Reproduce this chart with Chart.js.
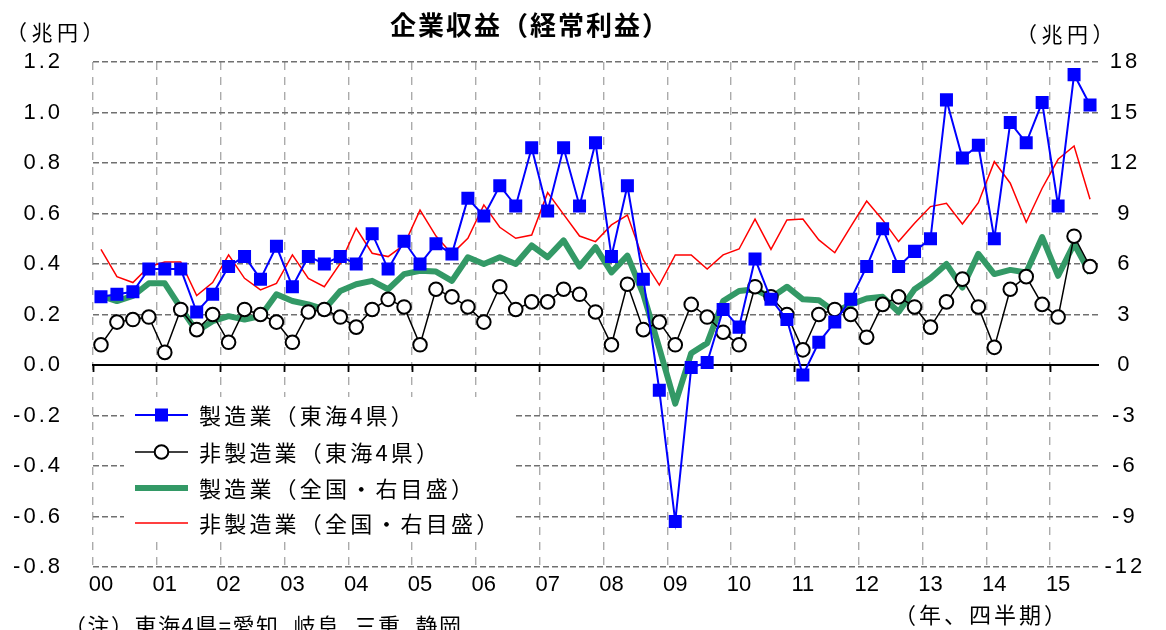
<!DOCTYPE html>
<html><head><meta charset="utf-8">
<script src="https://cdn.jsdelivr.net/npm/chart.js@4.4.0/dist/chart.umd.min.js"></script>
<style>html,body{margin:0;padding:0;background:#fff;}</style>
</head><body>
<canvas id="c" width="1166" height="630"></canvas>
<script>
// ---- data ----
const years = ['00','01','02','03','04','05','06','07','08','09','10','11','12','13','14','15'];
const seriesNames = ['製造業（東海4県）','非製造業（東海4県）','製造業（全国・右目盛）','非製造業（全国・右目盛）'];
// 製造業（東海4県） 兆円, left axis
const mfgTokai = [0.27,0.28,0.29,0.38,0.38,0.38,0.21,0.28,0.39,0.43,
  0.34,0.47,0.31,0.43,0.40,0.43,0.40,0.52,0.38,0.49,
  0.40,0.48,0.44,0.66,0.59,0.71,0.63,0.86,0.61,0.86,
  0.63,0.88,0.43,0.71,0.34,-0.10,-0.62,-0.01,0.01,0.22,
  0.15,0.42,0.26,0.18,-0.04,0.09,0.17,0.26,0.39,0.54,
  0.39,0.45,0.50,1.05,0.82,0.87,0.50,0.96,0.88,1.04,
  0.63,1.15,1.03];
// 非製造業（東海4県） 兆円, left axis
const nonMfgTokai = [0.08,0.17,0.18,0.19,0.05,0.22,0.14,0.20,0.09,0.22,
  0.20,0.17,0.09,0.21,0.22,0.19,0.15,0.22,0.26,0.23,
  0.08,0.30,0.27,0.23,0.17,0.31,0.22,0.25,0.25,0.30,
  0.28,0.21,0.08,0.32,0.14,0.17,0.08,0.24,0.19,0.13,
  0.08,0.31,0.27,0.20,0.06,0.20,0.22,0.20,0.11,0.24,
  0.27,0.23,0.15,0.25,0.34,0.23,0.07,0.30,0.35,0.24,
  0.19,0.51,0.39];
// 製造業（全国） 兆円, right axis
const mfgNation = [4.1,3.8,4.1,4.85,4.85,3.4,2.0,2.6,2.9,2.7,
  2.9,4.2,3.8,3.6,3.3,4.4,4.8,5.0,4.5,5.4,
  5.6,5.55,5.0,6.4,6.0,6.4,6.0,7.1,6.4,7.4,
  5.85,7.0,5.5,6.5,4.2,1.0,-2.3,0.7,1.3,3.8,
  4.4,4.5,4.0,4.65,3.9,3.85,3.15,3.6,3.95,4.05,
  3.15,4.5,5.15,6.0,4.6,6.6,5.4,5.65,5.5,7.6,
  5.3,7.2,5.45];
// 非製造業（全国） 兆円, right axis
const nonMfgNation = [6.87,5.25,4.9,5.84,6.12,6.12,4.12,4.9,6.54,5.15,
  4.46,4.85,6.54,5.15,4.65,6.04,8.12,6.64,6.44,7.13,
  9.2,7.66,6.6,7.53,9.51,8.18,7.53,7.72,10.24,8.95,
  7.66,7.33,8.32,8.91,6.24,4.75,6.54,6.54,5.7,6.54,
  6.89,8.67,6.87,8.62,8.67,7.43,6.67,8.22,9.74,8.62,
  7.33,8.42,9.41,9.61,8.38,9.64,12.08,10.8,8.48,10.5,
  12.22,13.01,9.85];
const leftRange = [-0.8, 1.2, 0.2];
const rightRange = [-12, 18, 3];

const categories = years.flatMap(y => [1,2,3,4].map(q => y + '/' + q + 'Q')).slice(0, mfgTokai.length);

// ---- styling ----
const LAT = '"Liberation Sans", Arial, sans-serif';
const JP = '"Noto Sans CJK JP", "Noto Sans", sans-serif';
const BLUE = '#0000FF', GREEN = '#339966', RED = '#FF0000', BLACK = '#000000';
const legendBox = {x: 124, y: 397, w: 390, h: 144};

function spacedLabels(scale, spacing) {
  if (scale._spaced) return;
  const orig = scale.drawLabels.bind(scale);
  scale.drawLabels = (area) => {
    const c = scale.ctx;
    c.save();
    c.letterSpacing = spacing;
    orig(area);
    c.restore();
  };
  scale._spaced = true;
}

const annot = {
  id: 'annot',
  beforeDraw(chart) {
    spacedLabels(chart.scales.y, '3px');
    spacedLabels(chart.scales.y1, '3px');
  },
  beforeDatasetsDraw(chart) {
    const c = chart.ctx;
    c.save();
    c.fillStyle = '#fff';
    c.fillRect(legendBox.x, legendBox.y, legendBox.w, legendBox.h);
    c.restore();
  },
  afterDatasetsDraw(chart) {
    const c = chart.ctx;
    c.save();
    const rows = [415, 452, 488, 523];
    const x1 = 135, x2 = 188, xm = (x1 + x2) / 2;
    const ds = chart.data.datasets;
    rows.forEach((ry, i) => {
      const d = ds[i];
      c.beginPath();
      c.strokeStyle = d.borderColor;
      c.lineWidth = d.borderWidth;
      c.moveTo(x1, ry); c.lineTo(x2, ry); c.stroke();
      if (d.pointStyle === 'rect' && d.pointRadius > 0) {
        const s = Math.SQRT1_2 * d.pointRadius;
        c.fillStyle = d.pointBackgroundColor;
        c.fillRect(xm - s, ry - s, 2 * s, 2 * s);
      } else if (d.pointStyle === 'circle' && d.pointRadius > 0) {
        c.beginPath();
        c.arc(xm, ry, d.pointRadius, 0, Math.PI * 2);
        c.fillStyle = d.pointBackgroundColor; c.fill();
        c.lineWidth = d.pointBorderWidth; c.strokeStyle = d.pointBorderColor; c.stroke();
      }
      c.fillStyle = '#000';
      c.font = '22px ' + JP;
      c.letterSpacing = '3.2px';
      c.textAlign = 'left'; c.textBaseline = 'middle';
      c.fillText(d.label, 199, ry + 1);
    });
    c.restore();
  },
  afterDraw(chart) {
    const c = chart.ctx;
    c.save();
    c.fillStyle = '#000';
    c.textBaseline = 'middle';
    c.font = 'bold 26px ' + JP;
    c.letterSpacing = '2px';
    c.textAlign = 'center';
    c.fillText('企業収益（経常利益）', 530, 25);
    c.textAlign = 'left';
    c.font = '21px ' + JP;
    c.letterSpacing = '4.5px';
    c.fillText('（兆円）', 6, 32);
    c.fillText('（兆円）', 1016, 34);
    c.font = '22px ' + JP;
    c.letterSpacing = '3px';
    c.fillText('（年、四半期）', 894, 615);
    c.letterSpacing = '1.5px';
    c.fillText('（注）東海4県=愛知, 岐阜, 三重, 静岡.', 64, 626);
    c.restore();
  }
};

new Chart(document.getElementById('c'), {
  type: 'line',
  data: {
    labels: categories,
    datasets: [
      {label: seriesNames[0], data: mfgTokai, xAxisID: 'x', yAxisID: 'y', borderColor: BLUE, borderWidth: 2,
       pointStyle: 'rect', pointRadius: 9.2, pointBorderWidth: 0, pointBackgroundColor: BLUE, pointBorderColor: BLUE, tension: 0, order: 1},
      {label: seriesNames[1], data: nonMfgTokai, xAxisID: 'x', yAxisID: 'y', borderColor: BLACK, borderWidth: 1.5,
       pointStyle: 'circle', pointRadius: 6.8, pointBorderWidth: 2, pointBackgroundColor: '#fff', pointBorderColor: BLACK, tension: 0, order: 2},
      {label: seriesNames[2], data: mfgNation, xAxisID: 'x', yAxisID: 'y1', borderColor: GREEN, borderWidth: 6,
       pointRadius: 0, borderJoinStyle: 'round', tension: 0, order: 3},
      {label: seriesNames[3], data: nonMfgNation, xAxisID: 'x', yAxisID: 'y1', borderColor: RED, borderWidth: 1.5,
       pointRadius: 0, tension: 0, order: 4}
    ]
  },
  options: {
    responsive: false,
    animation: false,
    events: [],
    layout: {padding: {top: 62, left: 0, right: 0, bottom: 0}},
    plugins: {legend: {display: false}, tooltip: {enabled: false}, title: {display: false}},
    scales: {
      x: {
        type: 'category', position: 'bottom', offset: true,
        grid: {offset: true, drawTicks: false, lineWidth: 1.4,
               color: c => (c.index !== undefined && c.index % 4 === 0) ? '#ababab' : 'rgba(0,0,0,0)'},
        border: {display: false, dash: [8, 7]},
        ticks: {autoSkip: false, maxRotation: 0, minRotation: 0, padding: 5, color: '#000',
                font: {family: LAT, size: 22},
                callback: (v, i) => i % 4 === 0 ? categories[i].slice(0, 2) : ''},
        afterFit: s => { s.height = 63; }
      },
      x2: {
        type: 'category', position: {y: 0}, offset: true,
        grid: {offset: true, drawOnChartArea: false, drawTicks: true, tickLength: 6, tickWidth: 1.8,
               tickColor: c => (c.index !== undefined && c.index % 4 === 0) ? '#000' : 'rgba(0,0,0,0)'},
        border: {display: true, color: '#000', width: 2},
        ticks: {display: false}
      },
      y: {
        position: 'left', min: leftRange[0], max: leftRange[1],
        ticks: {stepSize: leftRange[2], padding: 30, color: '#000', font: {family: LAT, size: 22},
                callback: v => Number(v).toFixed(1)},
        grid: {color: '#707070', drawTicks: false, lineWidth: 1.5},
        border: {display: false, dash: [6, 3]},
        afterFit: s => { s.width = 93; }
      },
      y1: {
        position: 'right', min: rightRange[0], max: rightRange[1],
        ticks: {stepSize: rightRange[2], padding: 11, crossAlign: 'center', color: '#000', font: {family: LAT, size: 22},
                callback: v => String(Math.round(v))},
        grid: {drawOnChartArea: false, drawTicks: false},
        border: {display: false},
        afterFit: s => { s.width = 68; }
      }
    }
  },
  plugins: [annot]
});
</script>
</body></html>
